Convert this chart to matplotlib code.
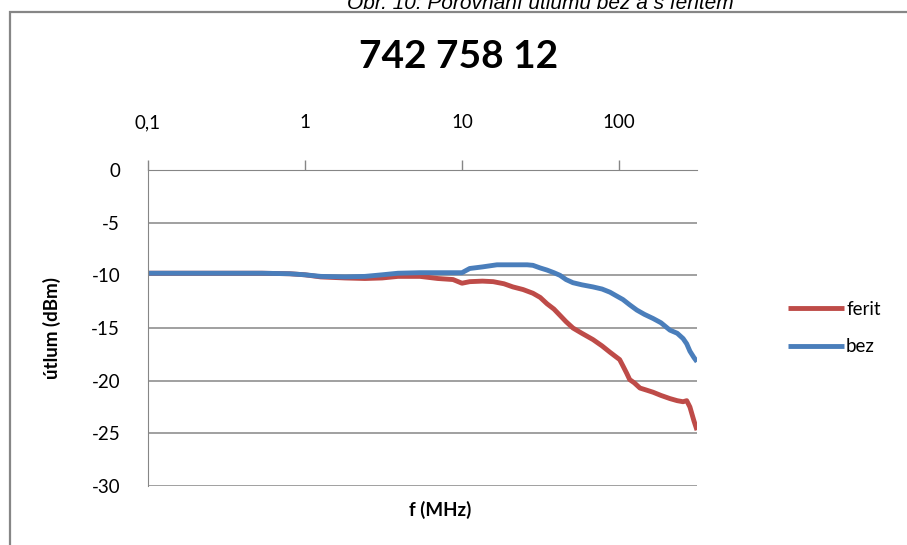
import numpy as np
import matplotlib
matplotlib.use("Agg")
import matplotlib.pyplot as plt
from matplotlib.patches import Rectangle
from matplotlib.ticker import FixedLocator, NullLocator

# utlum kabelu s feritem a bez feritu, 0,1 - 314 MHz
f_ferit = [0.1, 0.3, 0.53, 0.8, 1.0, 1.26, 1.8, 2.41, 3.1, 3.91, 5.4, 7.0, 8.77, 10.0,
           11.2, 13.5, 15.8, 18.5, 21.1, 24.5, 28.3, 31.5, 34.8, 38.5, 42.1, 46.0,
           50.9, 58.0, 68.3, 78.0, 87.6, 95.0, 101, 106, 112, 117, 125, 136, 150,
           165, 185, 211, 235, 256, 270, 283, 300, 314]
ferit = [-9.8, -9.8, -9.8, -9.85, -9.95, -10.15, -10.25, -10.3, -10.25, -10.1, -10.1,
         -10.3, -10.4, -10.75, -10.6, -10.55, -10.6, -10.8, -11.1, -11.35, -11.7,
         -12.1, -12.7, -13.2, -13.8, -14.4, -15.0, -15.5, -16.1, -16.7, -17.3, -17.7,
         -18.0, -18.6, -19.3, -19.9, -20.2, -20.7, -20.9, -21.1, -21.4, -21.7, -21.9,
         -22.0, -21.9, -22.5, -23.8, -24.7]

f_bez = [0.1, 0.3, 0.53, 0.8, 1.0, 1.26, 1.8, 2.41, 3.1, 3.91, 5.4, 7.0, 8.77, 10.0,
         11.2, 13.5, 16.7, 21.1, 26.0, 28.3, 31.5, 34.8, 38.5, 42.1, 46.0, 50.9,
         58.0, 68.3, 78.0, 87.6, 95.0, 106, 117, 130, 145, 165, 185, 211, 235, 256,
         270, 283, 300, 314]
bez = [-9.8, -9.8, -9.8, -9.85, -9.95, -10.1, -10.15, -10.1, -9.95, -9.8, -9.75, -9.75,
       -9.75, -9.75, -9.35, -9.2, -9.0, -9.0, -9.0, -9.05, -9.3, -9.5, -9.75, -10.0,
       -10.4, -10.7, -10.9, -11.1, -11.3, -11.6, -11.9, -12.3, -12.8, -13.3, -13.7,
       -14.1, -14.5, -15.2, -15.5, -16.0, -16.5, -17.2, -17.8, -18.2]

x_ticks = [0.1, 1, 10, 100]
x_tick_labels = ["0,1", "1", "10", "100"]
y_ticks = [0, -5, -10, -15, -20, -25, -30]

red = "#BE4B48"
blue = "#4A7EBB"
gray = "#868686"

plt.rcParams["font.family"] = ["Lato", "DejaVu Sans"]
plt.rcParams["axes.unicode_minus"] = False

W, H = 907, 545
fig = plt.figure(figsize=(W / 100, H / 100), dpi=100)

# ramecek grafu
fig.patches.append(Rectangle((10 / W, -0.1), 1.2, (H - 12) / H + 0.1,
                             transform=fig.transFigure, fill=False,
                             edgecolor=gray, linewidth=1.6))

# popisek obrazku (oriznuty nahore)
fig.text(540 / W, 1 - 9 / H, "Obr. 10: Porovnání útlumu bez a s feritem",
         ha="center", va="baseline", fontsize=15, style="italic",
         family="Liberation Sans")

fig.text(459 / W, 1 - 57 / H, "742 758 12", ha="center", va="center",
         fontsize=28, fontweight="bold")

ax = fig.add_axes([148 / W, 59 / H, (697 - 148) / W, (486 - 170) / H])
ax.plot(f_ferit, ferit, color=red, lw=3.5, label="ferit", solid_capstyle="butt")
ax.plot(f_bez, bez, color=blue, lw=3.5, label="bez", solid_capstyle="butt")

ax.set_xscale("log")
ax.set_xlim(0.1, 314)
ax.set_ylim(-30, 0)

ax.xaxis.set_major_locator(FixedLocator(x_ticks))
ax.xaxis.set_minor_locator(NullLocator())
ax.set_xticklabels(x_tick_labels)
ax.xaxis.tick_top()
ax.tick_params(axis="x", direction="out", length=7, width=1, color=gray,
               labelsize=13.5, pad=21)
ax.set_yticks(y_ticks)
ax.tick_params(axis="y", length=0, labelsize=13.5, pad=20)

ax.grid(axis="y", color=gray, lw=1.1)
for side in ["right", "bottom"]:
    ax.spines[side].set_visible(False)
ax.spines["left"].set_color(gray)
ax.spines["top"].set_color(gray)

ax.set_ylabel("útlum (dBm)", fontsize=13.5, fontweight="bold", labelpad=22)
fig.text(440 / W, 1 - 510 / H, "f (MHz)", ha="center", va="center",
         fontsize=13.5, fontweight="bold")

ax.legend(loc="center left", bbox_to_anchor=(1.135, 0.5), frameon=False,
          fontsize=13.5, handlelength=3.0, handletextpad=0.1, labelspacing=1.1)

fig.savefig("out.png", dpi=100)
